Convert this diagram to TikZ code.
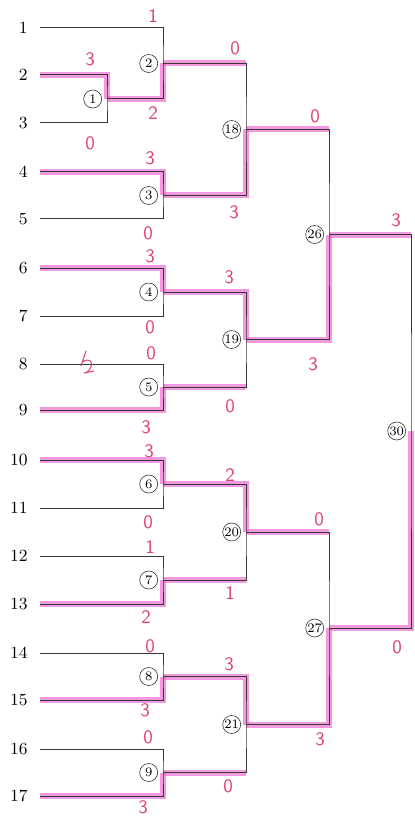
\documentclass[tikz,border=0pt]{standalone}
\usepackage{tikz}
\usetikzlibrary{positioning}
\definecolor{hlpink}{RGB}{238,110,208}
\definecolor{inkpink}{RGB}{222,62,122}
\definecolor{linegray}{RGB}{55,55,55}

\begin{document}
\begin{tikzpicture}[x=0.5pt, y=-0.5pt,
  entry/.style={font=\fontsize{8.5}{9}\selectfont, inner sep=0pt},
  seed/.style={circle, draw=linegray, line width=0.3pt, inner sep=0pt, minimum size=9pt, font=\fontsize{6.5}{7}\selectfont},
  bline/.style={linegray, line width=0.5pt},
  hl/.style={hlpink, line width=3pt, opacity=0.7, shift={(1.5,1.5)}},
  score/.style={inkpink, font=\sffamily\fontsize{9.5}{10}\selectfont}]

\useasboundingbox (0,0) rectangle (414,818);

% Entries
\foreach \i/\y in {1/28,2/75,3/123,4/172,5/219,6/268,7/316,8/364,9/410,10/460,11/508,12/556,13/604,14/653,15/700,16/749,17/796} {
  \coordinate (s\i) at (40,\y);
  \node[entry, left=6pt of s\i] (e\i) {\i};
}

% Match points
\coordinate (m1) at (107,99);
\foreach \m/\y in {2/63.5,3/195.5,4/292,5/387,6/484,7/580,8/676.5,9/772.5}
  \coordinate (m\m) at (163,\y);
\foreach \m/\y in {18/129.5,19/339.5,20/532,21/724.5}
  \coordinate (m\m) at (246,\y);
\coordinate (m26) at (329,234.5);
\coordinate (m27) at (329,628);
\coordinate (m30) at (411,431);

% Winner paths (highlighter)
\foreach \w/\m in {s2/m1,m1/m2,s4/m3,s6/m4,s9/m5,s10/m6,s13/m7,s15/m8,s17/m9,m3/m18,m4/m19,m6/m20,m8/m21,m19/m26,m21/m27,m27/m30}
  \draw[hl] (\w) -| (\m);
\foreach \l/\m in {m2/m18,m5/m19,m7/m20,m9/m21,m18/m26,m20/m27,m26/m30}
  \draw[hl] (\l) -- (\l -| \m);

% Bracket
\foreach \a/\b/\m in {s2/s3/m1,s1/m1/m2,s4/s5/m3,s6/s7/m4,s8/s9/m5,s10/s11/m6,s12/s13/m7,s14/s15/m8,s16/s17/m9,m2/m3/m18,m4/m5/m19,m6/m7/m20,m8/m9/m21,m18/m19/m26,m20/m21/m27,m26/m27/m30}
  \draw[bline] (\a) -| (\m) |- (\b);

% Match numbers
\foreach \m in {1,2,3,4,5,6,7,8,9,18,19,20,21,26,27,30}
  \node[seed, left=2.5pt of m\m] (c\m) {\m};

% Scores
\foreach \x/\y/\s [count=\k] in {90/59/3,90/143/0,153/16/1,153/113/2,150/158/3,148/233/0,150/256/3,150/327/0,151/353/0,146/427/3,149/451/3,148/522/0,150/547/1,146/617/2,150/646/0,145/710/3,148/737/0,143/807/3,235/48/0,234/212/3,229/277/3,230/406/0,230/475/2,230/593/1,229/664/3,228/786/0,315/116/0,313/364/3,319/519/0,320/739/3,396/220/3,397/647/0}
  \node[score] (sc\k) at (\x,\y) {\s};

% Mark beside entry 8
\draw[inkpink, line width=0.5pt, line cap=round] (86,351) -- (81,366)
  (82,362) .. controls (91,356) and (96,365) .. (86,373)
  (84,373) -- (94,371);

\end{tikzpicture}
\end{document}
